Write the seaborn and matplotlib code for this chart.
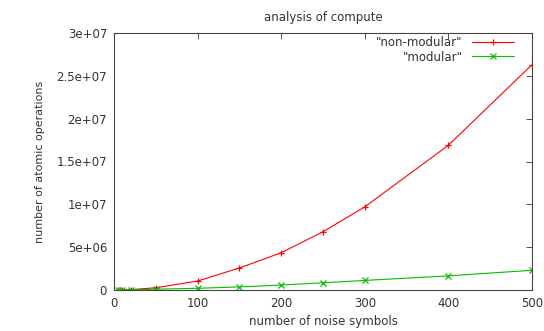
import numpy as np
import pandas as pd
import matplotlib
matplotlib.use("Agg")
import matplotlib.pyplot as plt
import seaborn as sns
from matplotlib.ticker import FixedLocator, FuncFormatter

# ---------------- data ----------------
noise_symbols = [5, 10, 20, 50, 100, 150, 200, 250, 300, 400, 500]
non_modular = [3.0e3, 1.1e4, 4.3e4, 2.6e5, 1.05e6, 2.57e6, 4.35e6, 6.8e6, 9.7e6, 1.69e7, 2.63e7]
modular = [1.0e3, 4.0e3, 1.6e4, 9.0e4, 2.0e5, 3.6e5, 5.8e5, 8.4e5, 1.12e6, 1.65e6, 2.3e6]

df = pd.DataFrame({
    "x": noise_symbols * 2,
    "y": non_modular + modular,
    "series": ['"non-modular"'] * len(noise_symbols) + ['"modular"'] * len(noise_symbols),
})

sns.set_style("white")
plt.rcParams["font.family"] = ["DejaVu Sans"]

fig = plt.figure(figsize=(5.44, 3.31), dpi=100)
ax = fig.add_axes([114 / 544, 41 / 331, 418 / 544, 257 / 331])

sns.lineplot(data=df, x="x", y="y", hue="series", style="series",
             palette={'"non-modular"': "#ff0000", '"modular"': "#00c000"},
             markers={'"non-modular"': "+", '"modular"': "x"},
             dashes=False, linewidth=0.8, markersize=5, markeredgewidth=0.9,
             ax=ax)

# seaborn paints marker edges white; gnuplot uses the line colour
for ln in ax.lines:
    ln.set_markeredgecolor(ln.get_color())

ax.set_xlim(0, 500)
ax.set_ylim(0, 3e7)
ax.xaxis.set_major_locator(FixedLocator([0, 100, 200, 300, 400, 500]))
ax.yaxis.set_major_locator(FixedLocator(np.arange(0, 3.01e7, 5e6)))
ax.yaxis.set_major_formatter(FuncFormatter(lambda v, p: "%g" % v))
ax.tick_params(direction="in", length=4, width=0.6, labelsize=8.5,
               top=True, right=True, colors="#333333", labelcolor="#333333", pad=5)

for s in ax.spines.values():
    s.set_color("#444444")
    s.set_linewidth(0.8)

ax.set_xlabel("number of noise symbols", fontsize=8.5, color="#333333", labelpad=4)
ax.set_ylabel("number of atomic operations", fontsize=8, color="#333333", labelpad=8)
ax.set_title("analysis of compute", fontsize=8.5, color="#333333", pad=9)

leg = ax.legend(loc="upper right", frameon=False, markerfirst=False, fontsize=8.5,
                handlelength=3.5, borderaxespad=0.1, labelspacing=0.1,
                bbox_to_anchor=(0.97, 1.01))
for t in leg.get_texts():
    t.set_color("#333333")
for h in leg.legend_handles:
    h.set_markeredgecolor(h.get_color())

fig.savefig("out.png", dpi=100)
